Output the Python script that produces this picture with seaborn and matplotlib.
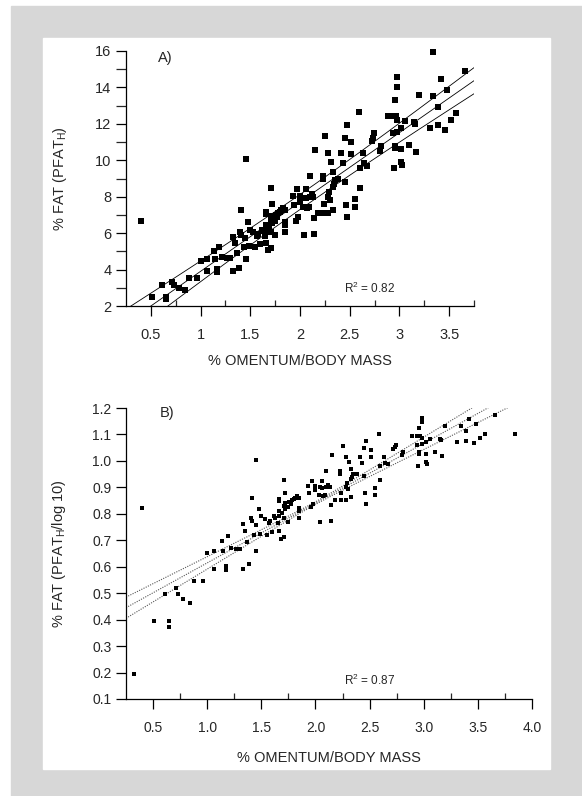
import numpy as np
import pandas as pd
import matplotlib
matplotlib.use("Agg")
import matplotlib.pyplot as plt
import seaborn as sns
from matplotlib.patches import Rectangle

# ── data ─────────────────────────────────────────────────────
omentum = [
    0.40, 0.51, 0.61, 0.65, 0.65, 0.71, 0.73, 0.78, 0.84, 0.88,
    0.96, 1.00, 1.06, 1.06, 1.14, 1.15, 1.17, 1.17, 1.19, 1.22,
    1.27, 1.30, 1.33, 1.33, 1.35, 1.37, 1.39, 1.40, 1.41, 1.41,
    1.435, 1.455, 1.455, 1.45, 1.48, 1.485, 1.50, 1.53, 1.55, 1.57,
    1.60, 1.62, 1.65, 1.66, 1.66, 1.66, 1.66, 1.66, 1.68, 1.71,
    1.72, 1.71, 1.71, 1.72, 1.71, 1.75, 1.75, 1.77, 1.78, 1.81,
    1.83, 1.85, 1.85, 1.85, 1.85, 1.93, 1.94, 1.97, 1.96, 1.98,
    2.00, 2.00, 2.04, 2.03, 2.04, 1.76, 1.80, 1.69, 1.63, 1.58,
    1.72, 3.34, 3.66, 3.42, 2.98, 2.98, 2.96, 3.20, 3.34, 3.48,
    3.39, 3.57, 3.52, 3.46, 3.39, 3.31, 3.16, 3.15, 3.06, 2.97,
    2.94, 2.89, 2.98, 3.02, 2.98, 2.94, 2.96, 2.96, 3.02, 3.10,
    3.17, 3.02, 3.03, 2.95, 2.59, 2.47, 2.25, 2.45, 2.51, 2.15,
    2.28, 2.41, 2.51, 2.63, 2.74, 2.73, 2.72, 2.81, 2.80, 2.31,
    2.43, 2.33, 2.64, 2.67, 2.60, 2.10, 2.23, 2.23, 2.35, 2.34,
    2.33, 2.29, 2.38, 2.45, 2.60, 2.55, 2.55, 2.46, 2.28, 2.30,
    2.24, 2.33, 2.28, 2.18, 2.24, 2.06, 2.12, 2.13, 2.06, 2.10,
    2.07, 2.09, 2.14, 2.14, 2.47, 0.32, 3.84,
]
pfat = [
    6.65, 2.49, 3.13, 2.49, 2.36, 3.30, 3.13, 3.00, 2.90, 3.53,
    3.53, 4.47, 4.58, 3.90, 5.00, 4.56, 4.01, 3.86, 5.22, 4.70,
    4.63, 4.63, 3.90, 5.77, 5.44, 4.93, 4.06, 6.08, 5.91, 7.27,
    5.25, 10.09, 4.56, 5.71, 6.59, 5.29, 6.17, 6.04, 5.25, 5.84,
    5.38, 6.17, 5.84, 7.18, 7.03, 6.17, 6.44, 5.44, 5.07, 8.46,
    7.58, 6.08, 6.76, 6.57, 5.16, 5.90, 6.68, 6.90, 7.09, 7.27,
    7.36, 7.27, 6.63, 6.44, 6.06, 8.04, 7.54, 8.40, 6.68, 6.90,
    8.04, 7.73, 7.95, 7.45, 5.90, 7.00, 7.15, 6.35, 6.10, 5.95,
    6.95, 15.93, 14.92, 14.46, 14.55, 14.00, 13.29, 13.58, 13.53, 13.84,
    12.94, 12.60, 12.19, 11.66, 11.92, 11.79, 11.97, 12.08, 12.14, 12.41,
    12.41, 12.41, 12.21, 11.79, 11.57, 11.50, 10.76, 10.65, 10.62, 10.84,
    10.47, 9.92, 9.74, 9.56, 12.65, 11.92, 11.35, 11.20, 10.98, 10.55,
    10.38, 10.38, 10.33, 10.38, 11.48, 11.24, 11.06, 10.80, 10.51, 9.92,
    9.83, 9.34, 9.83, 9.70, 9.59, 9.14, 9.14, 8.95, 8.91, 8.70,
    8.51, 8.28, 8.95, 8.79, 8.46, 7.87, 7.41, 7.54, 8.00, 7.82,
    7.58, 7.29, 7.09, 7.09, 7.09, 8.42, 8.13, 8.00, 7.91, 8.00,
    7.40, 7.45, 6.81, 5.95, 6.87, 1.56, 12.65,
]

# fitted lines (intercept, slope, band centre, band half-widths)
fit_a = {"b0": 0.097, "b1": 3.806, "xc": 2.1, "h0": 0.41, "k": 0.356}
fit_b = {"b0": 0.3885, "b1": 0.226, "xc": 2.0, "h0": 0.005, "k": 0.0227}

xticks_a = [0.5, 1, 1.5, 2, 2.5, 3, 3.5]
xticklabels_a = ["0.5", "1", "1.5", "2", "2.5", "3", "3.5"]
yticks_a = [2, 4, 6, 8, 10, 12, 14, 16]
xticks_b = [0.5, 1.0, 1.5, 2.0, 2.5, 3.0, 3.5, 4.0]
xticklabels_b = ["0.5", "1.0", "1.5", "2.0", "2.5", "3.0", "3.5", "4.0"]
yticks_b = [0.1, 0.2, 0.3, 0.4, 0.5, 0.6, 0.7, 0.8, 0.9, 1.0, 1.1, 1.2]

df = pd.DataFrame({"omentum": omentum, "pfat": pfat})
df["logfat"] = np.log10(df["pfat"])
df_a = df[(df["omentum"] <= 3.75) & (df["pfat"] >= 2)]    # panel A axis range
df_b = df[(df["logfat"] <= 1.2)]                          # panel B axis range

sns.set_style("ticks")
plt.rcParams["font.family"] = ["Liberation Sans", "DejaVu Sans"]
plt.rcParams["mathtext.default"] = "regular"

fig = plt.figure(figsize=(5.82, 7.96), dpi=100)
fig.patches.append(Rectangle((11/582, 0), 1 - 11/582, 1 - 6/796,
                             transform=fig.transFigure, color="#d7d7d7", zorder=-2))
fig.patches.append(Rectangle((43/582, 1 - 769/796), (550 - 43)/582, (769 - 38)/796,
                             transform=fig.transFigure, color="white", zorder=-1))

axA = fig.add_axes([126/582, 1 - 306/796, 348/582, 255/796])
axB = fig.add_axes([126/582, 1 - 699/796, 406/582, 291/796])


def fit_lines(ax, fit, x0, x1, **kw):
    xs = np.linspace(x0, x1, 300)
    yc = fit["b0"] + fit["b1"]*xs
    hw = np.sqrt(fit["h0"]**2 + (fit["k"]*(xs - fit["xc"]))**2)
    for yy in (yc - hw, yc, yc + hw):
        ax.plot(xs, yy, **kw)


# ── A) ───────────────────────────────────────────────────────
sns.scatterplot(data=df_a, x="omentum", y="pfat", marker="s", color="black",
                s=16, linewidth=0, ax=axA, zorder=3, clip_on=False)
fit_lines(axA, fit_a, 0.25, 3.75, color="black", lw=0.6, zorder=2)
axA.set_xlim(0.25, 3.75)
axA.set_ylim(2, 16)
axA.set_xticks(xticks_a)
axA.set_xticklabels(xticklabels_a)
axA.set_xticks(np.arange(0.75, 3.8, 0.5), minor=True)
axA.set_yticks(yticks_a)
axA.set_yticks(np.arange(3, 16, 2), minor=True)
axA.tick_params(axis="both", which="major", direction="out", length=7,
                width=0.9, labelsize=10.5, color="black")
axA.tick_params(axis="x", which="major", pad=9)
axA.tick_params(axis="x", which="minor", direction="in", length=4, width=0.9)
axA.tick_params(axis="y", which="minor", direction="out", length=7, width=0.9)
axA.set_xlabel("% OMENTUM/BODY MASS", fontsize=10.5)
axA.set_ylabel("% FAT (PFAT$_H$)", fontsize=10.5)
axA.xaxis.set_label_coords(0.5, -0.19)
axA.yaxis.set_label_coords(-0.165, 0.5)
axA.text(0.092, 0.973, "A)", transform=axA.transAxes, fontsize=10.5,
         ha="left", va="center")
axA.text(0.70, 0.07, "R$^2$ = 0.82", transform=axA.transAxes, fontsize=8.5,
         ha="center", va="center")

# ── B) ───────────────────────────────────────────────────────
sns.scatterplot(data=df_b, x="omentum", y="logfat", marker="s", color="black",
                s=10, linewidth=0, ax=axB, zorder=3, clip_on=False)
fit_lines(axB, fit_b, 0.25, 4.0, color="#555555", lw=0.8, ls=(0, (1, 1.2)), zorder=2)
axB.set_xlim(0.25, 4.0)
axB.set_ylim(0.1, 1.2)
axB.set_xticks(xticks_b)
axB.set_xticklabels(xticklabels_b)
axB.set_xticks(np.arange(0.75, 4.0, 0.5), minor=True)
axB.set_yticks(yticks_b)
axB.set_yticklabels([f"{v:.1f}" for v in yticks_b])
axB.tick_params(axis="both", which="major", direction="out", length=7,
                width=0.9, labelsize=10, color="black")
axB.tick_params(axis="x", which="major", pad=9)
axB.tick_params(axis="x", which="minor", direction="in", length=4, width=0.9)
axB.set_xlabel("% OMENTUM/BODY MASS", fontsize=10.5)
axB.set_ylabel("% FAT (PFAT$_H$/log 10)", fontsize=10.5)
axB.xaxis.set_label_coords(0.5, -0.18)
axB.yaxis.set_label_coords(-0.142, 0.5)
axB.text(0.083, 0.983, "B)", transform=axB.transAxes, fontsize=10.5,
         ha="left", va="center")
axB.text(0.60, 0.065, "R$^2$ = 0.87", transform=axB.transAxes, fontsize=8.5,
         ha="center", va="center")

for ax in (axA, axB):
    sns.despine(ax=ax)
    ax.set_facecolor("white")
    for sp in ("left", "bottom"):
        ax.spines[sp].set_linewidth(0.9)
        ax.spines[sp].set_color("black")

fig.savefig("out.png", dpi=100)
